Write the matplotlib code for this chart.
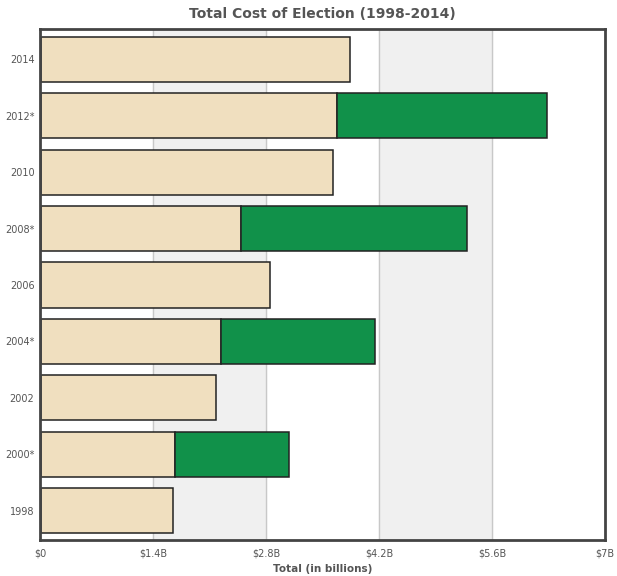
import matplotlib
matplotlib.use('Agg')
import matplotlib.pyplot as plt

# election years, bottom to top
years = ['1998', '2000*', '2002', '2004*', '2006', '2008*', '2010', '2012*', '2014']
# congressional races (billions)
congress = [1.63, 1.66, 2.17, 2.23, 2.84, 2.48, 3.62, 3.66, 3.83]
# presidential race on top (billions), 0 in midterm years
president = [0, 1.41, 0, 1.91, 0, 2.79, 0, 2.61, 0]

xticks = [0, 1.4, 2.8, 4.2, 5.6, 7]
xlabels = ['$0', '$1.4B', '$2.8B', '$4.2B', '$5.6B', '$7B']

beige = '#f0dfbf'
green = '#11914a'
txt = '#555555'

fig = plt.figure(figsize=(6.17, 5.76), dpi=100)
ax = fig.add_axes([0.0648, 0.0625, 0.9158, 0.8872])

# alternating shaded bands
ax.axvspan(1.4, 2.8, color='#f0f0f0', zorder=0)
ax.axvspan(4.2, 5.6, color='#f0f0f0', zorder=0)
for x in xticks[1:-1]:
    ax.axvline(x, color='#c8c8c8', lw=1, zorder=1)

ypos = list(range(len(years)))
ax.barh(ypos, congress, height=0.8, left=0.015, color=beige,
        edgecolor='#222222', linewidth=1.1, zorder=2)
pres_y = [y for y, p in zip(ypos, president) if p > 0]
pres_v = [p for p in president if p > 0]
pres_l = [c + 0.015 for c, p in zip(congress, president) if p > 0]
ax.barh(pres_y, pres_v, height=0.8, left=pres_l, color=green,
        edgecolor='#222222', linewidth=1.1, zorder=2)

ax.set_xlim(0, 7)
ax.set_ylim(-0.52, 8.54)
ax.set_xticks(xticks)
ax.set_xticklabels(xlabels)
ax.set_yticks(ypos)
ax.set_yticklabels(years)
ax.tick_params(axis='x', length=0, labelsize=7, colors=txt, pad=6)
ax.tick_params(axis='y', length=0, labelsize=7, colors=txt, pad=4)
for s in ax.spines.values():
    s.set_color('#444444')
    s.set_linewidth(2)

ax.set_xlabel('Total (in billions)', fontsize=7.5, fontweight='bold',
              color=txt, labelpad=4)
ax.set_title('Total Cost of Election (1998-2014)', fontsize=10,
             fontweight='bold', color=txt, pad=8)

fig.savefig('out.png', dpi=100)
